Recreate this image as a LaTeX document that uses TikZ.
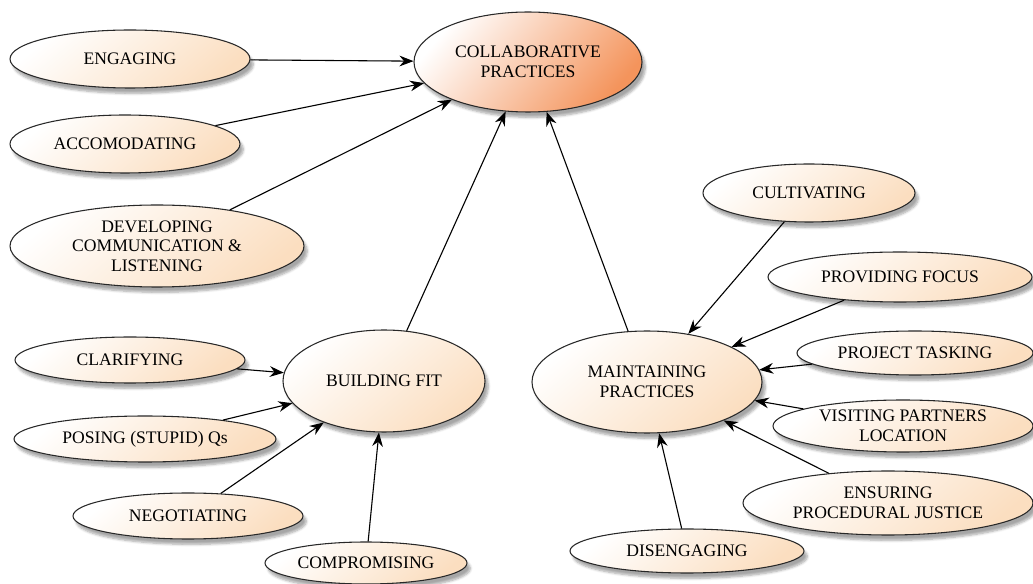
\documentclass[tikz,border=0pt]{standalone}
\usepackage{fontspec}
\setmainfont{Liberation Serif}
\usetikzlibrary{shapes.geometric,arrows.meta,shadows.blur}

\definecolor{peach}{RGB}{251,222,192}
\definecolor{coral}{RGB}{244,148,92}
\definecolor{rim}{RGB}{40,40,40}
\definecolor{ghost}{RGB}{234,234,234}

\pgfdeclarelayer{background}
\pgfsetlayers{background,main}

\tikzset{
  bubble/.style={ellipse, draw=rim, line width=0.8pt, inner sep=0pt, align=center,
    font=\fontsize{13.2}{14.8}\selectfont,
    top color=white, bottom color=peach, shading angle=40,
    blur shadow={shadow xshift=2.5pt, shadow yshift=-4pt, shadow blur steps=6, shadow opacity=35}},
  hub/.style={bubble, bottom color=coral, shading angle=50},
  sz/.style 2 args={minimum width=#1*0.75pt, minimum height=#2*0.75pt},
  link/.style={-{Stealth[length=10.5pt,width=8pt]}, line width=0.8pt, black},
  ghostlink/.style={-{Stealth[length=10.5pt,width=8pt]}, line width=1pt, ghost},
}

\begin{document}
\begin{tikzpicture}[x=0.75pt, y=-0.75pt]
  \useasboundingbox (0,0) rectangle (1033,584);

  % central concept
  \node[hub, sz={228}{100}] (cp) at (528,62) {COLLABORATIVE\\PRACTICES};

  % direct contributors
  \node[bubble, sz={240}{58}] (eng) at (130,59) {ENGAGING};
  \node[bubble, sz={230}{58}] (acc) at (125,144) {ACCOMODATING};
  \node[bubble, sz={294}{82}] (dev) at (157,246) {DEVELOPING\\COMMUNICATION \&\\LISTENING};

  % building fit cluster
  \node[bubble, sz={202}{102}] (bf) at (384,381) {BUILDING FIT};
  \node[bubble, sz={230}{46}] (cla) at (130,360) {CLARIFYING};
  \node[bubble, sz={262}{46}] (pos) at (145,439) {POSING (STUPID) Qs};
  \node[bubble, sz={230}{46}] (neg) at (188,516) {NEGOTIATING};
  \node[bubble, sz={202}{42}] (com) at (366,563) {COMPROMISING};

  % maintaining cluster
  \node[bubble, sz={230}{102}] (mp) at (647,382) {MAINTAINING\\PRACTICES};
  \node[bubble, sz={212}{58}] (cul) at (809,193) {CULTIVATING};
  \node[bubble, sz={264}{50}] (pf) at (900,277) {PROVIDING FOCUS};
  \node[bubble, sz={236}{44}] (pt) at (915,353) {PROJECT TASKING};
  \node[bubble, sz={260}{52}] (vp) at (903,426) {VISITING PARTNERS\\LOCATION};
  \node[bubble, sz={290}{64}] (ej) at (888,503) {ENSURING\\PROCEDURAL JUSTICE};
  \node[bubble, sz={234}{44}] (dis) at (687,551) {DISENGAGING};

  % faint reflections of the connectors
  \begin{pgfonlayer}{background}
    \begin{scope}[shift={(9,9)}]
      \foreach \s/\t in {eng/cp, acc/cp, dev/cp, bf/cp, mp/cp,
                         cla/bf, pos/bf, neg/bf, com/bf,
                         cul/mp, pf/mp, pt/mp, vp/mp, ej/mp, dis/mp}
        \draw[ghostlink] (\s) -- (\t);
    \end{scope}
  \end{pgfonlayer}

  % connectors
  \foreach \s/\t in {eng/cp, acc/cp, dev/cp, bf/cp, mp/cp,
                     cla/bf, pos/bf, neg/bf, com/bf,
                     cul/mp, pf/mp, pt/mp, vp/mp, ej/mp, dis/mp}
    \draw[link] (\s) -- (\t);
\end{tikzpicture}
\end{document}
